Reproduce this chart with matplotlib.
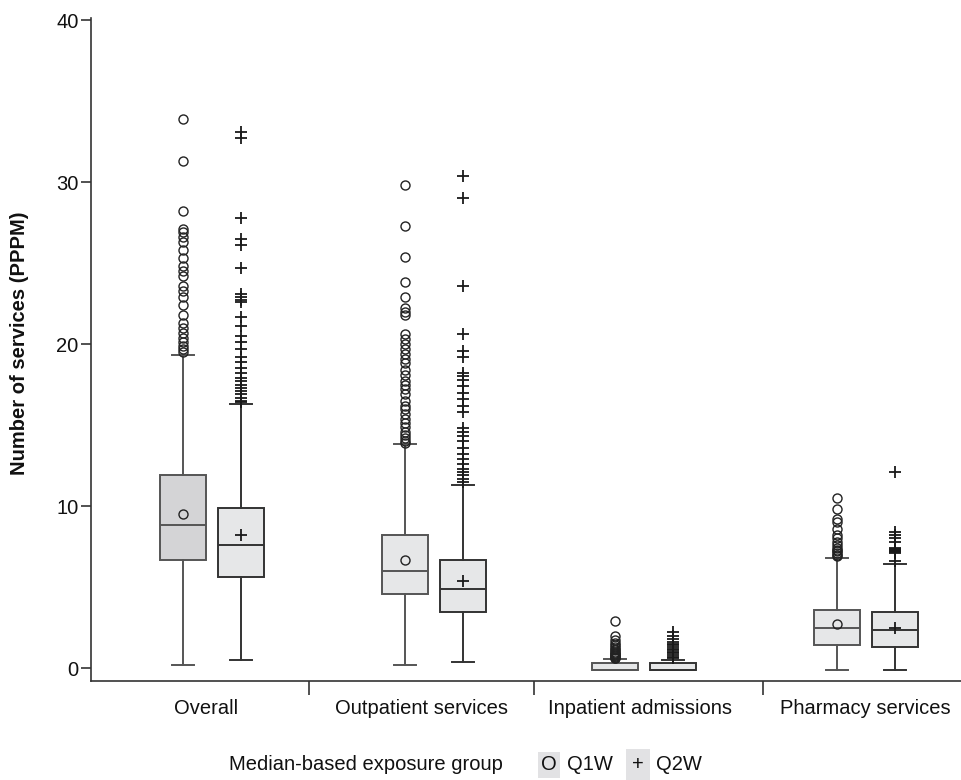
import matplotlib
matplotlib.use("Agg")
import matplotlib.pyplot as plt

plt.rcParams['font.family'] = ['Liberation Sans', 'DejaVu Sans']

categories = ["Overall", "Outpatient services", "Inpatient admissions", "Pharmacy services"]

# [lower whisker, Q1, median, Q3, upper whisker]
q1w_box = [
    [0.2, 6.7, 8.8, 11.9, 19.35],
    [0.2, 4.6, 6.0, 8.2, 13.8],
    [-0.15, -0.15, -0.15, 0.3, 0.55],
    [-0.1, 1.4, 2.45, 3.6, 6.8],
]
q2w_box = [
    [0.5, 5.6, 7.6, 9.9, 16.3],
    [0.35, 3.45, 4.9, 6.7, 11.3],
    [-0.15, -0.15, -0.15, 0.3, 0.5],
    [-0.1, 1.3, 2.35, 3.45, 6.45],
]
q1w_mean = [9.5, 6.7, None, 2.75]
q2w_mean = [8.2, 5.4, None, 2.5]

q1w_out = [
    [33.9, 31.3, 28.2, 27.1, 26.9, 26.6, 26.3, 25.8, 25.3, 24.8, 24.5, 24.2, 23.6,
     23.3, 22.9, 22.4, 21.8, 21.3, 21.0, 20.7, 20.4, 20.1, 19.9, 19.7, 19.5],
    [29.8, 27.3, 25.4, 23.8, 22.9, 22.2, 22.0, 21.8, 20.6, 20.3, 20.0, 19.7, 19.4,
     19.1, 18.8, 18.4, 18.1, 17.7, 17.5, 17.2, 16.9, 16.5, 16.2, 16.0, 15.7, 15.4,
     15.1, 14.9, 14.6, 14.4, 14.2, 14.0, 13.9],
    [2.9, 2.0, 1.75, 1.55, 1.4, 1.3, 1.2, 1.1, 1.0, 0.9, 0.85, 0.8, 0.75, 0.7, 0.65, 0.6],
    [10.5, 9.8, 9.2, 9.0, 8.6, 8.2, 8.0, 7.8, 7.6, 7.4, 7.3, 7.2, 7.1, 7.0, 6.9],
]
q2w_out = [
    [33.1, 32.7, 27.8, 26.5, 26.1, 24.7, 23.1, 22.9, 22.7, 22.6, 21.7, 21.1, 20.5,
     20.1, 19.7, 19.2, 18.9, 18.5, 18.2, 17.9, 17.7, 17.5, 17.3, 17.1, 16.9, 16.7,
     16.5, 16.4],
    [30.4, 29.0, 23.6, 20.6, 19.6, 19.2, 18.2, 18.0, 17.8, 17.4, 17.0, 16.6, 16.2,
     15.8, 14.8, 14.6, 14.3, 14.0, 13.6, 13.2, 12.9, 12.6, 12.3, 12.1, 11.9, 11.7, 11.5],
    [2.2, 2.0, 1.8, 1.6, 1.5, 1.4, 1.3, 1.2, 1.1, 1.0, 0.9, 0.8, 0.7, 0.6],
    [12.1, 8.4, 8.2, 8.0, 7.8, 7.4, 7.35, 7.3, 7.25, 7.2, 7.15, 7.1, 6.6],
]

# layout
group_pos = [0.0, 1.02, 1.98, 3.0]
offset = 0.133
label_pos = [-0.028, 0.963, 1.963, 2.995]
sep_pos = [0.445, 1.477, 2.528]
fs = 14.5


def make_stats(boxes, outs):
    stats = []
    for b, o in zip(boxes, outs):
        stats.append(dict(whislo=b[0], q1=b[1], med=b[2], q3=b[3], whishi=b[4], fliers=o))
    return stats


fig = plt.figure(figsize=(9.62, 7.8), dpi=100)
ax = fig.add_axes([91 / 962, 0.1269, 1 - 91 / 962, 0.8495])

series = [
    (q1w_box, q1w_out, q1w_mean, -offset, 'o', '#555555', ['#d4d4d6', '#e6e7e8', '#e6e7e8', '#e6e7e8']),
    (q2w_box, q2w_out, q2w_mean, offset, '+', '#333333', ['#e6e7e8'] * 4),
]

for boxes, outs, means, off, mk, lc, fills in series:
    pos = [p + off for p in group_pos]
    if mk == 'o':
        fp = dict(marker='o', markersize=6.5, markerfacecolor='none', markeredgecolor='#222222',
                  markeredgewidth=1.0, linestyle='none')
    else:
        fp = dict(marker='+', markersize=9, markeredgecolor='#1a1a1a',
                  markeredgewidth=1.3, linestyle='none')
    bp = ax.bxp(make_stats(boxes, outs), positions=pos, widths=0.21, capwidths=0.1,
                patch_artist=True, showfliers=True, manage_ticks=False,
                boxprops=dict(edgecolor=lc, linewidth=1.4),
                whiskerprops=dict(color=lc, linewidth=1.4),
                capprops=dict(color=lc, linewidth=1.4),
                medianprops=dict(color=lc, linewidth=1.4),
                flierprops=fp)
    for patch, fc in zip(bp['boxes'], fills):
        patch.set_facecolor(fc)
    for p, m in zip(pos, means):
        if m is None:
            continue
        if mk == 'o':
            ax.plot(p, m, 'o', markersize=6.5, markerfacecolor='none',
                    markeredgecolor='#222222', markeredgewidth=1.0, zorder=5)
        else:
            ax.plot(p, m, '+', markersize=9, markeredgecolor='#1a1a1a',
                    markeredgewidth=1.3, zorder=5)

ax.set_xlim(-0.555, 3.44)
ax.set_ylim(-0.8, 40.1)
ax.spines['top'].set_visible(False)
ax.spines['right'].set_visible(False)
for s in ['left', 'bottom']:
    ax.spines[s].set_color('#333333')
    ax.spines[s].set_linewidth(1.2)

ax.set_yticks([0, 10, 20, 30, 40])
ax.tick_params(axis='y', length=7, width=1.2, color='#333333', labelsize=fs, pad=2,
               labelcolor='#111111')

ax.set_xticks(sep_pos)
ax.set_xticklabels([''] * len(sep_pos))
ax.tick_params(axis='x', which='major', length=10, width=1.2, color='#333333')
ax.set_xticks(label_pos, minor=True)
ax.set_xticklabels(categories, minor=True)
ax.tick_params(axis='x', which='minor', length=0, pad=13, labelsize=fs, labelcolor='#111111')

fig.text(20 / 962, 1 - 343 / 780, "Number of services (PPPM)", rotation=90,
         ha='center', va='center', fontsize=fs, fontweight='bold', color='#111111')

# legend row
ly = 1 - 765 / 780
fig.text(366 / 962, ly, "Median-based exposure group", ha='center', va='center',
         fontsize=fs, color='#111111')
fig.text(549 / 962, ly, "O", ha='center', va='center', fontsize=fs, color='#111111',
         bbox=dict(facecolor='#e2e2e4', edgecolor='none', boxstyle='square,pad=0.15'))
fig.text(567 / 962, ly, "Q1W", ha='left', va='center', fontsize=fs, color='#111111')
fig.text(638 / 962, ly, "+", ha='center', va='center', fontsize=fs, color='#111111',
         bbox=dict(facecolor='#e2e2e4', edgecolor='none', boxstyle='square,pad=0.3'))
fig.text(656 / 962, ly, "Q2W", ha='left', va='center', fontsize=fs, color='#111111')

fig.savefig("out.png", dpi=100)
